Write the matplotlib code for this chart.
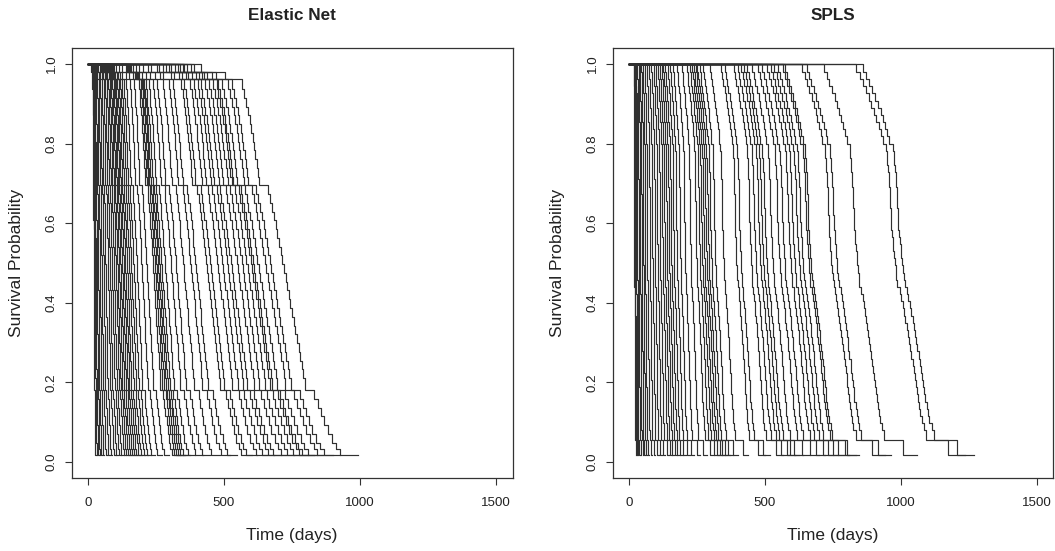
import numpy as np
import matplotlib
matplotlib.use("Agg")
import matplotlib.pyplot as plt

plt.rcParams['font.family'] = ['Liberation Sans', 'DejaVu Sans']

# predicted survival curves share the same steps, only the time scale differs.
# drop times are given as a fraction of each curve's last follow-up time.
en_drop = [0.421, 0.507, 0.570, 0.578, 0.586, 0.594, 0.600, 0.606, 0.611, 0.616,
           0.621, 0.626, 0.631, 0.636, 0.668, 0.675, 0.683, 0.690, 0.697, 0.703,
           0.709, 0.715, 0.721, 0.727, 0.733, 0.739, 0.745, 0.751, 0.757, 0.763,
           0.769, 0.775, 0.781, 0.787, 0.793, 0.799, 0.805, 0.840, 0.852, 0.864,
           0.876, 0.890, 0.905, 0.920, 0.935]
en_level = [0.980, 0.962, 0.937, 0.915, 0.893, 0.871, 0.849, 0.827, 0.805, 0.783,
            0.761, 0.739, 0.717, 0.695, 0.673, 0.651, 0.629, 0.607, 0.585, 0.563,
            0.541, 0.519, 0.497, 0.475, 0.453, 0.431, 0.409, 0.387, 0.365, 0.343,
            0.321, 0.299, 0.277, 0.255, 0.233, 0.211, 0.181, 0.159, 0.137, 0.115,
            0.093, 0.071, 0.049, 0.033, 0.018]
en_end_days = [30, 35, 40, 46, 53, 61, 70, 80, 90, 102, 112, 122, 132, 142, 150,
               158, 166, 174, 182, 190, 199, 209, 220, 232, 248, 273, 298, 330, 340,
               348, 356, 364, 374, 392, 422, 447, 484, 522, 547, 603, 621, 659, 684,
               709, 727, 758, 783, 808, 830, 840, 864, 902, 927, 991]

spls_drop = [0.678, 0.688, 0.696, 0.705, 0.714, 0.722, 0.730, 0.737, 0.744, 0.750,
             0.756, 0.766, 0.768, 0.770, 0.772, 0.774, 0.776, 0.777, 0.778, 0.779,
             0.780, 0.781, 0.782, 0.784, 0.786, 0.788, 0.790, 0.792, 0.795, 0.797,
             0.800, 0.807, 0.811, 0.815, 0.819, 0.823, 0.827, 0.831, 0.834, 0.837,
             0.841, 0.845, 0.848, 0.851, 0.854, 0.857, 0.860, 0.864, 0.868, 0.872,
             0.878, 0.886, 0.951]
spls_level = [0.980, 0.962, 0.944, 0.926, 0.908, 0.890, 0.872, 0.854, 0.836, 0.818,
              0.800, 0.782, 0.764, 0.746, 0.728, 0.710, 0.692, 0.674, 0.656, 0.638,
              0.620, 0.602, 0.584, 0.566, 0.548, 0.530, 0.512, 0.494, 0.476, 0.458,
              0.440, 0.422, 0.404, 0.386, 0.368, 0.350, 0.332, 0.314, 0.296, 0.278,
              0.260, 0.242, 0.224, 0.206, 0.188, 0.170, 0.152, 0.134, 0.116, 0.098,
              0.080, 0.055, 0.018]
spls_end_days = [26, 30, 35, 40, 46, 53, 60, 68, 76, 86, 98, 110, 122, 134, 146,
                 158, 168, 178, 188, 198, 210, 224, 240, 262, 288, 315, 330, 342,
                 352, 362, 372, 384, 402, 440, 500, 520, 568, 590, 610, 625, 640,
                 668, 700, 723, 751, 770, 790, 808, 835, 845, 941, 965, 1060, 1235,
                 1268]

x_ticks = [0, 500, 1000, 1500]
y_ticks = [0.0, 0.2, 0.4, 0.6, 0.8, 1.0]

W, H = 1055, 551
fig = plt.figure(figsize=(W / 100, H / 100), dpi=100)
ax1 = fig.add_axes([71.5 / W, 73 / H, 441 / W, 430 / H])
ax2 = fig.add_axes([612.5 / W, 73 / H, 440.5 / W, 430 / H])


def draw_panel(ax, title, drop, level, ends):
    drop = np.asarray(drop)
    level = np.asarray(level)
    for end in ends:
        xs = np.r_[0, drop * end, end]
        ys = np.r_[1.0, level, level[-1]]
        ax.step(xs, ys, where='post', color='#303030', lw=0.85)

    ax.set_xlim(-60, 1560)
    ax.set_ylim(-0.04, 1.04)
    ax.set_xticks(x_ticks)
    ax.set_xticklabels([str(v) for v in x_ticks])
    ax.set_yticks(y_ticks)
    ax.set_yticklabels(['%.1f' % v for v in y_ticks], rotation=90, va='center')
    ax.tick_params(axis='both', direction='out', length=5, width=0.8,
                   labelsize=9.6, color='#333333', labelcolor='#222222')
    ax.tick_params(axis='x', pad=9)
    ax.tick_params(axis='y', pad=5)
    for sp in ax.spines.values():
        sp.set_linewidth(0.9)
        sp.set_color('#333333')

    ax.set_title(title, fontsize=12.3, fontweight='bold', color='#222222',
                 y=1.075, va='center', pad=0)
    ax.set_xlabel('Time (days)', fontsize=12.5, color='#222222', va='center')
    ax.xaxis.set_label_coords(0.5, -0.1344)
    ax.set_ylabel('Survival Probability', fontsize=12.5, color='#222222', va='center')
    ax.yaxis.set_label_coords(-0.125, 0.5)


draw_panel(ax1, 'Elastic Net', en_drop, en_level, en_end_days)
draw_panel(ax2, 'SPLS', spls_drop, spls_level, spls_end_days)

fig.savefig('out.png', dpi=100, facecolor='white')
